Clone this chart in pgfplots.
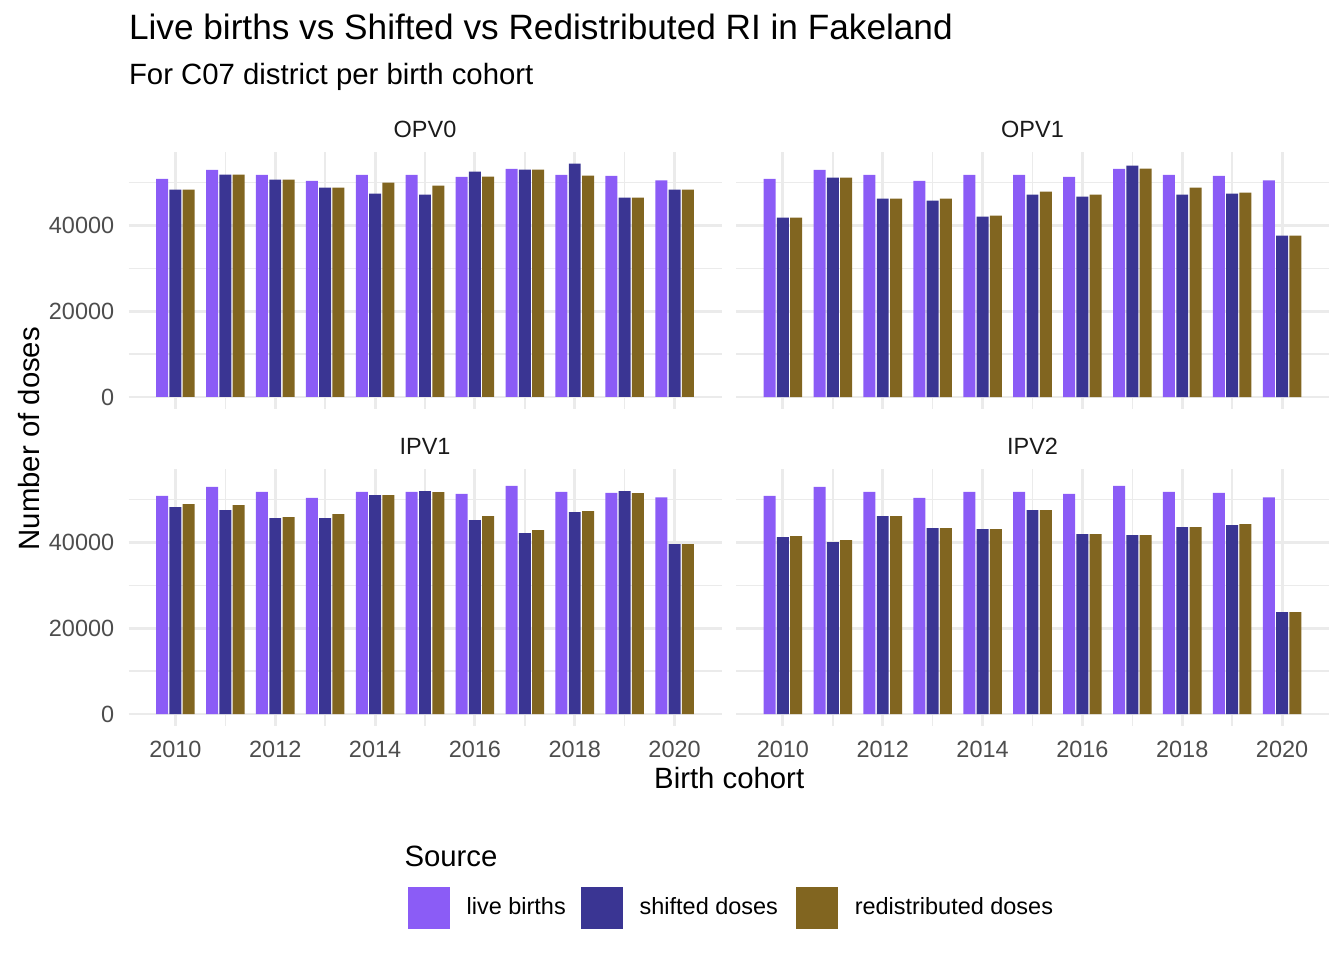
\documentclass[border=0pt]{standalone}
\usepackage{pgfplots}
\usepackage{pgfplotstable}
\pgfplotsset{compat=1.18}
\usepackage{fontspec}
\setmainfont{Liberation Sans}

\definecolor{cLive}{HTML}{8B5CF6}
\definecolor{cShift}{HTML}{3A3593}
\definecolor{cRedis}{HTML}{816520}
\definecolor{grey92}{HTML}{EBEBEB}
\definecolor{grey30}{HTML}{4D4D4D}
\definecolor{grey10}{HTML}{1A1A1A}

\pgfplotstableread{
year live shifted redis
2010 50850 48340 48340
2011 52950 51840 51840
2012 51780 50670 50670
2013 50380 48800 48800
2014 51780 47400 49970
2015 51780 47170 49270
2016 51310 52540 51370
2017 53180 53010 53010
2018 51780 54410 51610
2019 51550 46470 46470
2020 50490 48340 48340
}\tOPVzero

\pgfplotstableread{
year live shifted redis
2010 50850 41800 41800
2011 52950 51140 51140
2012 51780 46240 46240
2013 50380 45770 46240
2014 51780 42030 42270
2015 51780 47170 47870
2016 51310 46700 47170
2017 53180 53940 53240
2018 51780 47170 48800
2019 51550 47400 47640
2020 50490 37600 37600
}\tOPVone

\pgfplotstableread{
year live shifted redis
2010 50850 48220 48920
2011 52950 47520 48690
2012 51780 45660 45890
2013 50380 45660 46590
2014 51780 51020 51020
2015 51780 51950 51720
2016 51310 45200 46130
2017 53180 42170 42870
2018 51780 47060 47290
2019 51550 51950 51480
2020 50490 39600 39600
}\tIPVone

\pgfplotstableread{
year live shifted redis
2010 50850 41240 41470
2011 52950 40070 40540
2012 51780 46130 46130
2013 50380 43330 43330
2014 51780 43100 43100
2015 51780 47520 47520
2016 51310 41930 41930
2017 53180 41700 41700
2018 51780 43560 43560
2019 51550 44030 44260
2020 50490 23760 23760
}\tIPVtwo

\pgfplotsset{
  panel/.style={
    scale only axis,
    width=222.375pt, height=96.28pt,
    anchor=south west,
    xmin=2009.06, xmax=2020.94,
    ymin=-2720, ymax=57128,
    axis line style={draw=none},
    tick style={draw=none},
    major tick length=0pt, minor tick length=0pt,
    xtick={2010,2012,...,2020},
    minor xtick={2011,2013,...,2019},
    ytick={0,20000,40000},
    minor ytick={10000,30000,50000},
    grid=both,
    major grid style={draw=grey92, line width=1.07pt},
    minor grid style={draw=grey92, line width=0.53pt},
    scaled x ticks=false, scaled y ticks=false,
    xticklabels={2010,2012,2014,2016,2018,2020},
    yticklabels={0,20000,40000},
    tick label style={font=\fontsize{8.8}{10}\selectfont, text=grey30},
    xticklabel style={yshift=-2.2pt},
    yticklabel style={xshift=-1.83pt},
    /pgf/number format/assume math mode=true,
    clip=false,
  },
  barL/.style={ybar, bar width=0.24, bar shift=-0.2667, fill=cLive, draw=none,
    legend image code/.code={\fill[cLive] (0pt,-7.875pt) rectangle (15.75pt,7.875pt);}},
  barS/.style={ybar, bar width=0.24, bar shift=0, fill=cShift, draw=none,
    legend image code/.code={\fill[cShift] (0pt,-7.875pt) rectangle (15.75pt,7.875pt);}},
  barR/.style={ybar, bar width=0.24, bar shift=0.2667, fill=cRedis, draw=none,
    legend image code/.code={\fill[cRedis] (0pt,-7.875pt) rectangle (15.75pt,7.875pt);}},
}

\begin{document}
\begin{tikzpicture}
\path[use as bounding box] (0pt,0pt) rectangle (504pt,360pt);

% top-left OPV0
\begin{axis}[panel, at={(48.19pt,206.75pt)}, xmajorticks=false]
\addplot[barL] table[x=year,y=live] {\tOPVzero};
\addplot[barS] table[x=year,y=shifted] {\tOPVzero};
\addplot[barR] table[x=year,y=redis] {\tOPVzero};
\end{axis}

% top-right OPV1
\begin{axis}[panel, at={(276pt,206.75pt)}, xmajorticks=false, ymajorticks=false]
\addplot[barL] table[x=year,y=live] {\tOPVone};
\addplot[barS] table[x=year,y=shifted] {\tOPVone};
\addplot[barR] table[x=year,y=redis] {\tOPVone};
\end{axis}

% bottom-left IPV1
\begin{axis}[panel, at={(48.19pt,87.87pt)},
  legend style={at={(axis description cs:0.4713,-0.7100)}, anchor=west,
    draw=none, fill=none, inner sep=0pt, outer sep=0pt,
    font=\fontsize{8.8}{10}\selectfont,
    nodes={inner sep=0pt},
    /tikz/every odd column/.append style={column sep=6.26pt},
    /tikz/every even column/.append style={column sep=5.7pt}},
  legend columns=3, legend cell align=left]
\addplot[barL] table[x=year,y=live] {\tIPVone};
\addlegendentry{live births}
\addplot[barS] table[x=year,y=shifted] {\tIPVone};
\addlegendentry{shifted doses\hspace*{1.1pt}}
\addplot[barR] table[x=year,y=redis] {\tIPVone};
\addlegendentry{redistributed doses}
\end{axis}

% bottom-right IPV2
\begin{axis}[panel, at={(276pt,87.87pt)}, ymajorticks=false]
\addplot[barL] table[x=year,y=live] {\tIPVtwo};
\addplot[barS] table[x=year,y=shifted] {\tIPVtwo};
\addplot[barR] table[x=year,y=redis] {\tIPVtwo};
\end{axis}

% texts
\tikzset{every node/.append style={inner sep=0pt, outer sep=0pt}}
\node[anchor=base west, font=\fontsize{13.2}{15}\selectfont] at (48.4pt,345pt) {Live births vs Shifted vs Redistributed RI in Fakeland};
\node[anchor=base west, font=\fontsize{11}{13}\selectfont] at (48.4pt,328.3pt) {For C07 district per birth cohort};

\node[anchor=base, font=\fontsize{8.8}{10}\selectfont, text=grey10] at (159.38pt,308.44pt) {OPV0};
\node[anchor=base, font=\fontsize{8.8}{10}\selectfont, text=grey10] at (387.19pt,308.44pt) {OPV1};
\node[anchor=base, font=\fontsize{8.8}{10}\selectfont, text=grey10] at (159.38pt,189.4pt) {IPV1};
\node[anchor=base, font=\fontsize{8.8}{10}\selectfont, text=grey10] at (387.19pt,189.4pt) {IPV2};

\node[anchor=base, rotate=90, font=\fontsize{11}{13}\selectfont] at (14.8pt,195.5pt) {Number of doses};
\node[anchor=base, font=\fontsize{11}{13}\selectfont] at (273.45pt,64.4pt) {Birth cohort};

\node[anchor=base west, font=\fontsize{11}{13}\selectfont] at (151.7pt,35.25pt) {Source};
\end{tikzpicture}
\end{document}
